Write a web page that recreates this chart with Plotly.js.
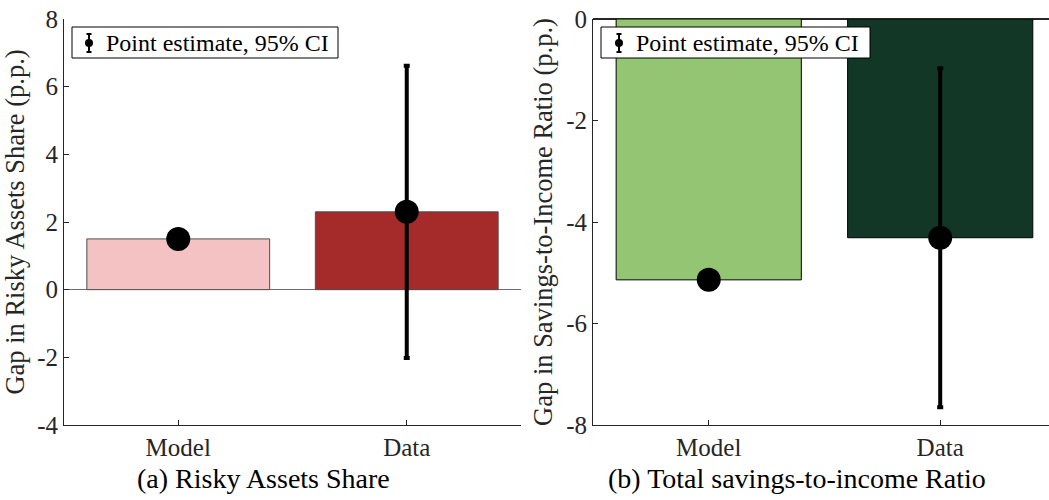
<!DOCTYPE html>
<html>
<head>
<meta charset="utf-8">
<script src="https://cdn.plot.ly/plotly-3.0.1.min.js"></script>
<style>
  html, body { margin: 0; padding: 0; background: #fff; overflow: hidden; }
  #chart { width: 1049px; height: 500px; }
</style>
</head>
<body>
<div id="chart"></div>
<script>
// Categories shared by both panels
const categories = ['Model', 'Data'];

// Panel (a): gap in risky assets share (p.p.)
const riskyBar = [1.5, 2.3];
const riskyPoint = [1.5, 2.3];
const riskyCiLow = [null, -2.02];
const riskyCiHigh = [null, 6.62];
const riskyTicks = [-4, -2, 0, 2, 4, 6, 8];

// Panel (b): gap in savings-to-income ratio (p.p.)
const savingsBar = [-5.14, -4.31];
const savingsPoint = [-5.14, -4.31];
const savingsCiLow = [null, -7.65];
const savingsCiHigh = [null, -0.97];
const savingsTicks = [-8, -6, -4, -2, 0];

const riskyColors = ['#f4c2c2', '#a52a2a'];
const savingsColors = ['#93c572', '#133726'];

const W = 1049, H = 500;
const px = x => x / W;
const py = y => 1 - y / H;
const FONT = 'Liberation Serif, Times New Roman, serif';
const AXIS = '#262626';

function ciPlus(point, high) {
  return point.map((p, i) => high[i] == null ? NaN : high[i] - p);
}
function ciMinus(point, low) {
  return point.map((p, i) => low[i] == null ? NaN : p - low[i]);
}

function barTrace(y, colors, edge, xa, ya) {
  return {
    type: 'bar', x: categories, y: y, xaxis: xa, yaxis: ya,
    marker: { color: colors, line: { color: edge, width: 1 } },
    hoverinfo: 'skip'
  };
}

function pointTrace(point, low, high, xa, ya) {
  return {
    type: 'scatter', mode: 'markers', x: categories, y: point, xaxis: xa, yaxis: ya,
    marker: { color: '#000', size: 24, symbol: 'circle' },
    error_y: {
      type: 'data', symmetric: false,
      array: ciPlus(point, high), arrayminus: ciMinus(point, low),
      color: '#000', thickness: 4, width: 3
    },
    name: 'Point estimate, 95% CI', hoverinfo: 'skip'
  };
}

const data = [
  barTrace(riskyBar, riskyColors, '#4d4d4d', 'x', 'y'),
  pointTrace(riskyPoint, riskyCiLow, riskyCiHigh, 'x', 'y'),
  barTrace(savingsBar, savingsColors, '#000', 'x2', 'y2'),
  pointTrace(savingsPoint, savingsCiLow, savingsCiHigh, 'x2', 'y2')
];

function xAxis(domain, range, anchor) {
  return {
    domain: domain, anchor: anchor, type: 'category', range: range,
    showline: true, linecolor: AXIS, linewidth: 1,
    ticks: 'inside', ticklen: 5, tickcolor: AXIS, tickwidth: 1,
    showgrid: false, zeroline: false, fixedrange: true,
    tickfont: { family: FONT, size: 25, color: AXIS }
  };
}

function yAxis(range, ticks, anchor, title, zeroColor) {
  return {
    domain: [0.15, 0.962], anchor: anchor, range: range,
    tickmode: 'array', tickvals: ticks, ticktext: ticks.map(String),
    showline: true, linecolor: AXIS, linewidth: 1,
    ticks: 'inside', ticklen: 5, tickcolor: AXIS, tickwidth: 1,
    showgrid: false, zeroline: true, zerolinecolor: zeroColor, zerolinewidth: 1.3,
    fixedrange: true,
    tickfont: { family: FONT, size: 25, color: AXIS },
    title: { text: title, font: { family: FONT, size: 26.5, color: AXIS }, standoff: 5 }
  };
}

// Legend frame with a small error-bar glyph, one per panel
function legendParts(boxX0, boxX1, glyphX, textX) {
  const shapes = [
    { type: 'rect', xref: 'paper', yref: 'paper', layer: 'above',
      x0: px(boxX0), x1: px(boxX1), y0: py(58), y1: py(27),
      fillcolor: '#fff', line: { color: '#000', width: 1 } },
    { type: 'line', xref: 'paper', yref: 'paper', layer: 'above',
      x0: px(glyphX), x1: px(glyphX), y0: py(34), y1: py(52),
      line: { color: '#000', width: 2 } },
    { type: 'line', xref: 'paper', yref: 'paper', layer: 'above',
      x0: px(glyphX - 2.5), x1: px(glyphX + 2.5), y0: py(34), y1: py(34),
      line: { color: '#000', width: 2 } },
    { type: 'line', xref: 'paper', yref: 'paper', layer: 'above',
      x0: px(glyphX - 2.5), x1: px(glyphX + 2.5), y0: py(52), y1: py(52),
      line: { color: '#000', width: 2 } },
    { type: 'circle', xref: 'paper', yref: 'paper', layer: 'above',
      x0: px(glyphX - 4), x1: px(glyphX + 4), y0: py(47), y1: py(39),
      fillcolor: '#000', line: { color: '#000', width: 0 } }
  ];
  const ann = {
    xref: 'paper', yref: 'paper', x: px(textX), y: py(43),
    xanchor: 'left', yanchor: 'middle', showarrow: false,
    text: 'Point estimate, 95% CI',
    font: { family: FONT, size: 24, color: '#000' }
  };
  return { shapes, ann };
}

const legA = legendParts(72, 338, 89, 104);
const legB = legendParts(601, 870, 619, 634);

const layout = {
  width: W, height: H,
  margin: { l: 0, r: 0, t: 0, b: 0 },
  paper_bgcolor: '#fff', plot_bgcolor: '#fff',
  showlegend: false, bargap: 0.2,
  font: { family: FONT, size: 25, color: AXIS },
  xaxis: xAxis([px(64), px(521)], [-0.5, 1.5], 'y'),
  yaxis: yAxis([-4, 8], riskyTicks, 'x', 'Gap in Risky Assets Share (p.p.)', '#6e6e6e'),
  xaxis2: xAxis([px(593), 1], [-0.5, 1.47], 'y2'),
  yaxis2: yAxis([-8, 0], savingsTicks, 'x2', 'Gap in Savings-to-Income Ratio (p.p.)', '#262626'),
  shapes: legA.shapes.concat(legB.shapes),
  annotations: [
    legA.ann, legB.ann,
    { xref: 'paper', yref: 'paper', x: px(263), y: py(478), xanchor: 'center', yanchor: 'middle',
      showarrow: false, text: '(a) Risky Assets Share',
      font: { family: FONT, size: 28, color: '#000' } },
    { xref: 'paper', yref: 'paper', x: px(797), y: py(478), xanchor: 'center', yanchor: 'middle',
      showarrow: false, text: '(b) Total savings-to-income Ratio',
      font: { family: FONT, size: 28, color: '#000' } }
  ]
};

Plotly.newPlot('chart', data, layout, { staticPlot: true, displayModeBar: false });
</script>
</body>
</html>
